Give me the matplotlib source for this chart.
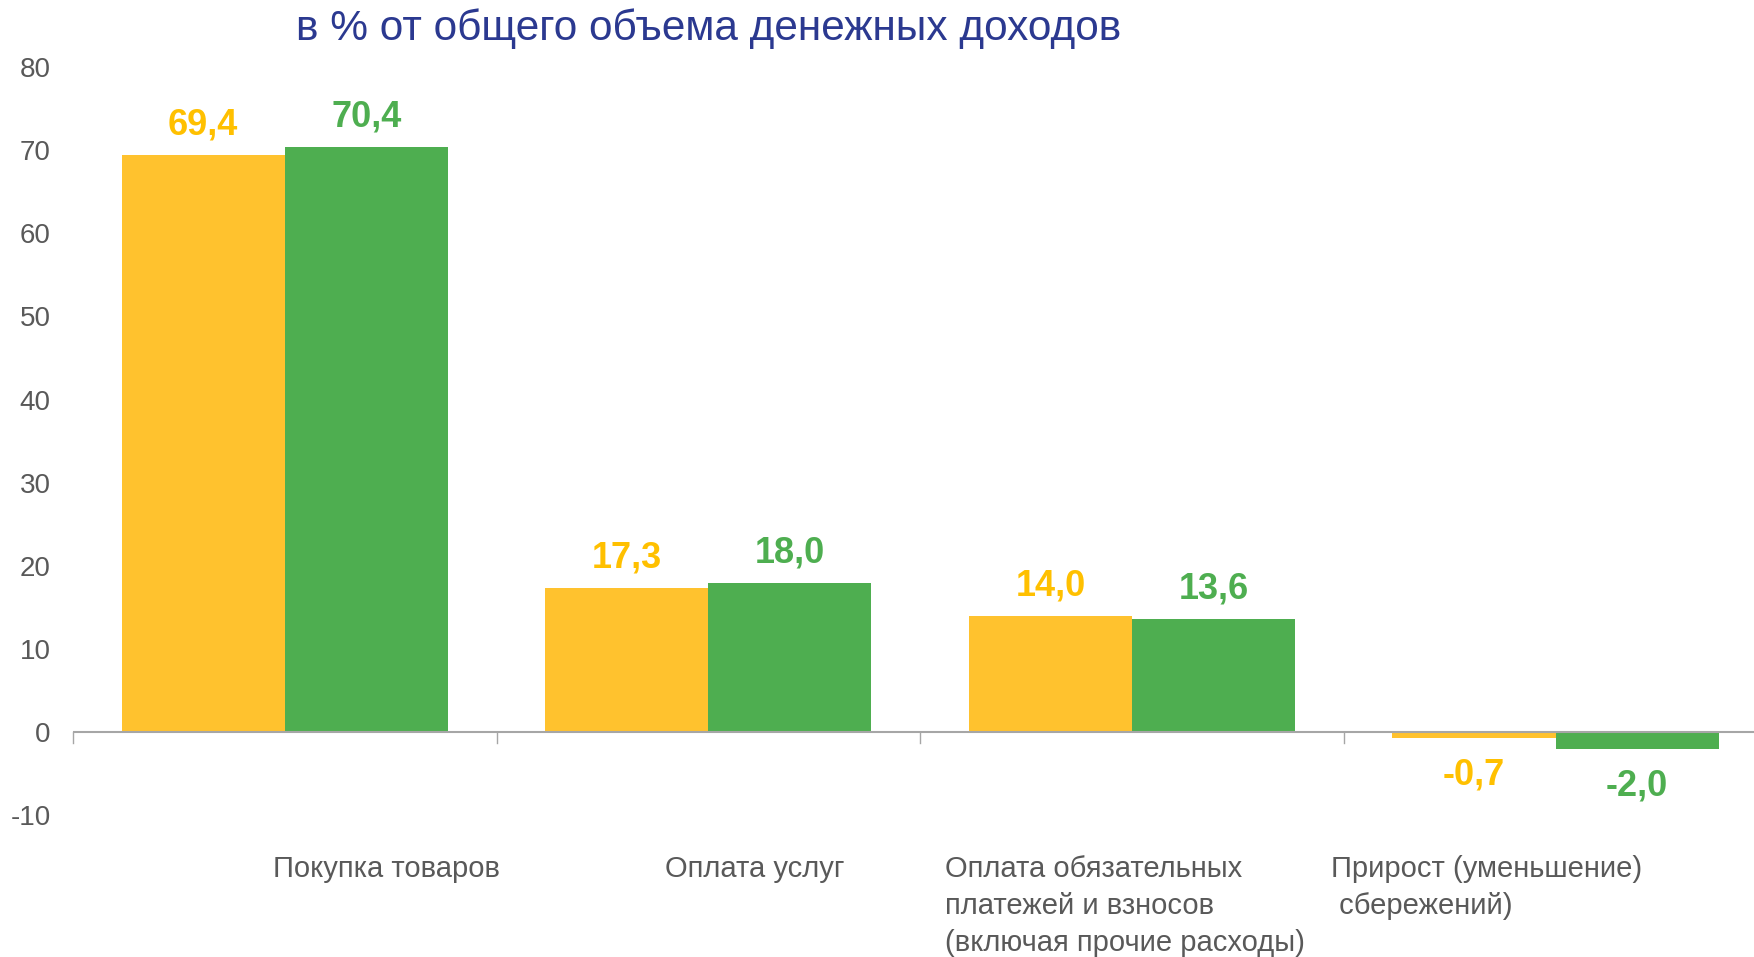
import matplotlib.pyplot as plt
import numpy as np

plt.rcParams['font.family'] = ['Liberation Sans', 'DejaVu Sans']
plt.rcParams['axes.unicode_minus'] = False

# data
categories = ['Покупка товаров',
              'Оплата услуг',
              'Оплата обязательных\nплатежей и взносов\n(включая прочие расходы)',
              'Прирост (уменьшение)\n сбережений)']
series_a = [69.4, 17.3, 14.0, -0.7]
series_b = [70.4, 18.0, 13.6, -2.0]
label_a = ['69,4', '17,3', '14,0', '-0,7']
label_b = ['70,4', '18,0', '13,6', '-2,0']

yellow = '#FFC22E'
yellow_txt = '#FFC000'
green = '#4EAE50'
gray = '#595959'

fig = plt.figure(figsize=(17.54, 9.57), dpi=100)
ax = fig.add_axes([0.0416, 0.148, 0.966, 0.782])

x = np.arange(len(categories))
w = 0.385
bars_a = ax.bar(x - w / 2, series_a, w, color=yellow, zorder=2)
bars_b = ax.bar(x + w / 2, series_b, w, color=green, zorder=2)

ax.set_xlim(-0.5, 3.5)
ax.set_ylim(-10, 80)
ax.set_yticks(range(-10, 81, 10))
ax.tick_params(axis='y', length=0, labelsize=20, labelcolor=gray, pad=16)

for s in ax.spines.values():
    s.set_visible(False)
ax.set_xticks([])

# zero line with category separators
ax.axhline(0, color='#A6A6A6', lw=1.5, zorder=3)
for b in np.arange(-0.5, 3.6, 1):
    ax.plot([b, b], [0, -1.3], color='#A6A6A6', lw=1, zorder=3, clip_on=False)

# value labels
for bars, labels, col in [(bars_a, label_a, yellow_txt), (bars_b, label_b, green)]:
    for bar, lab in zip(bars, labels):
        h = bar.get_height()
        cx = bar.get_x() + bar.get_width() / 2
        if h >= 0:
            ax.annotate(lab, (cx, h), xytext=(0, 9), textcoords='offset points',
                        ha='center', va='bottom', fontsize=26, fontweight='bold', color=col)
        else:
            ax.annotate(lab, (cx, h), xytext=(0, -14), textcoords='offset points',
                        ha='center', va='top', fontsize=26, fontweight='bold', color=col)

# category labels
offsets = [-0.028, -0.102, -0.442, -0.529]
for i, (cat, off) in enumerate(zip(categories, offsets)):
    ax.text(i + off, -14.8, cat, ha='left', va='top', fontsize=21, color=gray,
            linespacing=1.4)

fig.text(0.404, 0.970, 'в % от общего объема денежных доходов', ha='center', va='center',
         fontsize=30.5, color='#2B3990')

fig.savefig('out.png', dpi=100)
